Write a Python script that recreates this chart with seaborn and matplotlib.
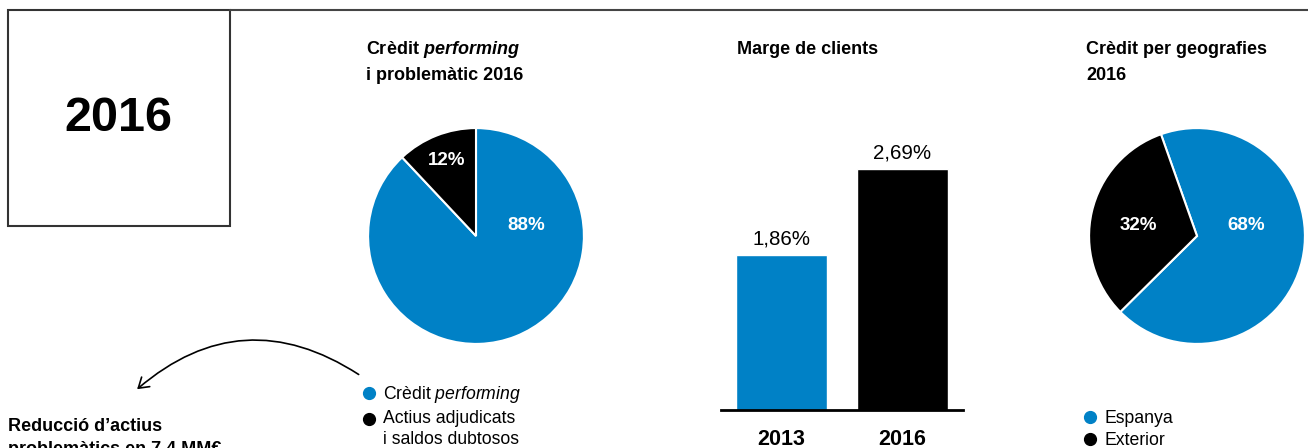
import matplotlib
matplotlib.use("Agg")
import matplotlib.pyplot as plt
from matplotlib.lines import Line2D
from matplotlib.patches import Rectangle, FancyArrowPatch
from matplotlib.legend_handler import HandlerLine2D
import seaborn as sns
import pandas as pd

# data
credit_labels = ["Crèdit $\\mathit{performing}$", "Actius adjudicats\ni saldos dubtosos"]
credit_values = [88, 12]
margin_years = ["2013", "2016"]
margin_values = [1.86, 2.69]
geo_labels = ["Espanya", "Exterior"]
geo_values = [68, 32]

BLUE = "#0081C6"
BLACK = "#000000"
W, H = 1308, 448

sns.set_style("white")
plt.rcParams["font.family"] = ["Liberation Sans", "DejaVu Sans"]
plt.rcParams["text.color"] = "black"
plt.rcParams["xtick.color"] = "black"
plt.rcParams["mathtext.fontset"] = "custom"
plt.rcParams["mathtext.rm"] = "Liberation Sans"
plt.rcParams["mathtext.it"] = "Liberation Sans:italic"
plt.rcParams["mathtext.bf"] = "Liberation Sans:bold"
plt.rcParams["mathtext.bfit"] = "Liberation Sans:italic:bold"


def fx(x):
    return x / W


def fy(y):
    return 1 - y / H


class LiftedHandler(HandlerLine2D):
    # moves the dot up so it sits on the first line of a wrapped label
    def __init__(self, lift, **kw):
        super().__init__(**kw)
        self.lift = lift

    def create_artists(self, legend, orig_handle, xdescent, ydescent, width, height, fontsize, trans):
        arts = super().create_artists(legend, orig_handle, xdescent, ydescent, width, height,
                                      fontsize, trans)
        for a in arts:
            a.set_ydata([y + self.lift for y in a.get_ydata()])
        return arts


def dot_legend(labels, anchor):
    handles = [Line2D([], [], marker="o", ls="", color=c, markersize=8.5) for c in [BLUE, BLACK]]
    hmap = {h: LiftedHandler(7.6) for h, l in zip(handles, labels) if "\n" in l}
    leg = fig.legend(handles, labels, loc="upper left", bbox_to_anchor=anchor, frameon=False,
                     fontsize=12.7, handlelength=0.7, handletextpad=0.45, borderpad=0,
                     borderaxespad=0, labelspacing=0.27, handler_map=hmap)
    for t in leg.get_texts():
        t.set_linespacing(1.35)
    return leg


fig = plt.figure(figsize=(W / 100, H / 100), dpi=100)

# frame: box + top rule
fig.add_artist(Rectangle((fx(8), fy(226)), fx(222), 216 / H, transform=fig.transFigure,
                         fill=False, edgecolor="#333333", lw=1.5))
fig.add_artist(Line2D([fx(230), 1], [fy(10), fy(10)], transform=fig.transFigure,
                      color="#444444", lw=1.5))
fig.text(fx(118), fy(118), "2016", fontsize=35, fontweight="bold", ha="center", va="center")

# pie 1
ax1 = fig.add_axes([fx(476 - 109), fy(236 + 109), 218 / W, 218 / H])
wedges, _, autot = ax1.pie(credit_values, colors=[BLUE, BLACK], startangle=90, counterclock=False,
                           autopct="%d%%", radius=1,
                           wedgeprops=dict(edgecolor="white", linewidth=1.5))
for t, pos in zip(autot, [(0.47, 0.10), (-0.275, 0.70)]):
    t.set_position(pos)
    t.set_color("white")
    t.set_fontsize(13.5)
    t.set_fontweight("bold")
ax1.set_xlim(-1.01, 1.01)
ax1.set_ylim(-1.01, 1.01)
fig.text(fx(366), fy(50), "Crèdit $\\mathbfit{performing}$", fontsize=13, fontweight="bold",
         va="center")
fig.text(fx(366), fy(75), "i problemàtic 2016", fontsize=13, fontweight="bold", va="center")
dot_legend(credit_labels, (fx(363), fy(384)))

# arrow
fig.add_artist(FancyArrowPatch((fx(361), fy(376)), (fx(135), fy(391)), transform=fig.transFigure,
                               connectionstyle="arc3,rad=0.38", arrowstyle="->,head_length=7,head_width=4.5",
                               color="black", lw=1.2))
fig.text(fx(8), fy(418), "Reducció d’actius\nproblemàtics en 7,4 MM€", fontsize=13,
         fontweight="bold", va="top", ha="left", linespacing=1.45)

# bars
df = pd.DataFrame({"year": margin_years, "value": margin_values})
ax2 = fig.add_axes([fx(721), fy(410), 242 / W, 310 / H])
sns.barplot(data=df, x="year", y="value", hue="year", palette=[BLUE, BLACK], width=0.75,
            legend=False, ax=ax2, saturation=1)
ax2.set_xlim(-0.5, 1.5)
ax2.set_ylim(0.364, 0.364 + 310 / 103.6)
for i, v in enumerate(margin_values):
    ax2.annotate(f"{v:.2f}".replace(".", ",") + "%", (i, v), xytext=(0, 5),
                 textcoords="offset points", ha="center", va="bottom", fontsize=14.8)
sns.despine(ax=ax2, left=True)
ax2.spines["bottom"].set_linewidth(2)
ax2.spines["bottom"].set_color("black")
ax2.set_yticks([])
ax2.set_xlabel("")
ax2.set_ylabel("")
ax2.tick_params(axis="x", length=0, pad=14)
for lab in ax2.get_xticklabels():
    lab.set_fontweight("bold")
    lab.set_fontsize(15.5)
ax2.patch.set_alpha(0)
fig.text(fx(737), fy(49), "Marge de clients", fontsize=13, fontweight="bold", va="center")

# pie 2
ax3 = fig.add_axes([fx(1197 - 109), fy(236 + 109), 218 / W, 218 / H])
w3, _, autot3 = ax3.pie(geo_values, colors=[BLUE, BLACK], startangle=109.5, counterclock=False,
                        autopct="%d%%", radius=1,
                        wedgeprops=dict(edgecolor="white", linewidth=1.5))
for t, pos in zip(autot3, [(0.46, 0.10), (-0.54, 0.10)]):
    t.set_position(pos)
    t.set_color("white")
    t.set_fontsize(13.5)
    t.set_fontweight("bold")
ax3.set_xlim(-1.01, 1.01)
ax3.set_ylim(-1.01, 1.01)
fig.text(fx(1086), fy(50), "Crèdit per geografies", fontsize=13, fontweight="bold", va="center")
fig.text(fx(1086), fy(75), "2016", fontsize=13, fontweight="bold", va="center")
dot_legend(geo_labels, (fx(1084), fy(410)))

fig.savefig("out.png", dpi=100)
